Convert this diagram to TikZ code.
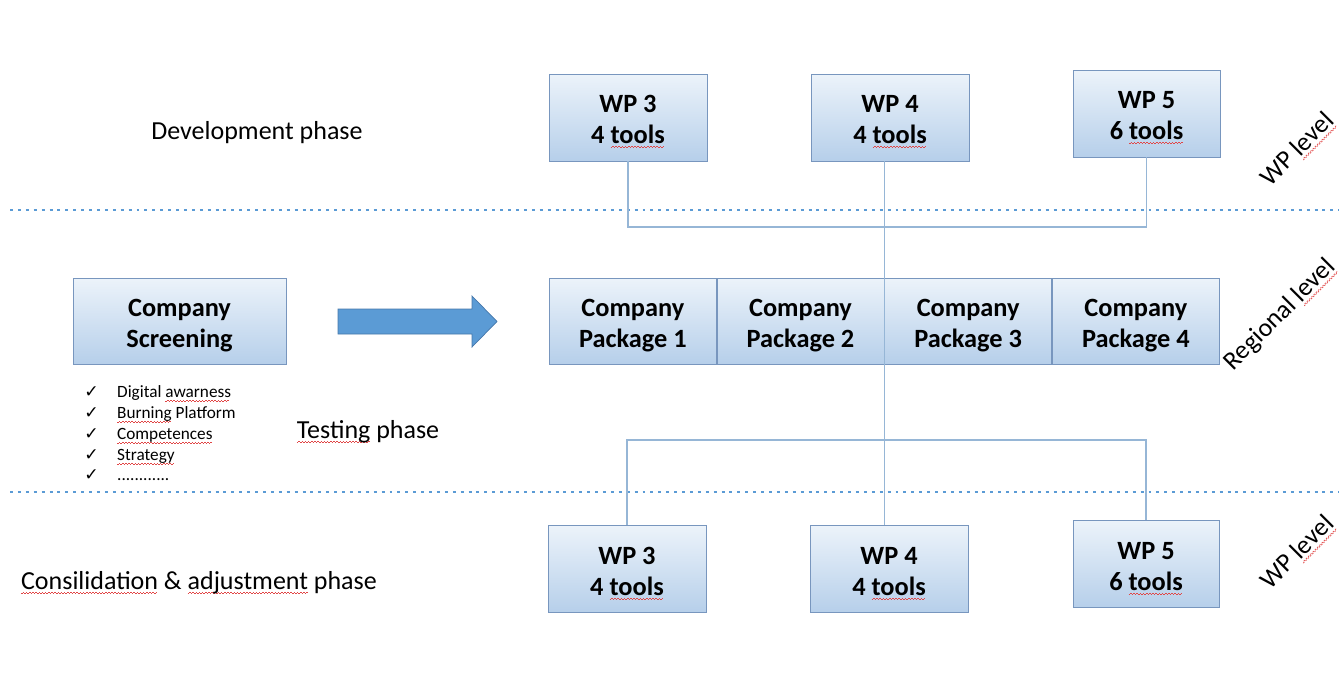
\documentclass[tikz,border=0pt]{standalone}
\usepackage{fontspec}
\setmainfont{Carlito}
\newfontfamily\symfont{DejaVu Sans}
\usetikzlibrary{positioning}
\definecolor{boxline}{RGB}{120,150,190}
\definecolor{boxtop}{RGB}{236,243,250}
\definecolor{boxbot}{RGB}{182,207,234}
\definecolor{linkblue}{RGB}{150,182,214}
\definecolor{dotblue}{RGB}{91,155,213}
\definecolor{arrowline}{RGB}{70,120,170}
\definecolor{spellred}{RGB}{225,70,70}
% red wavy spell-check mark under a word
\newcommand{\spell}[1]{\setbox0\hbox{#1}\rlap{\raisebox{-2.4pt}{\color{spellred}%
  \leaders\hbox{\rule{0.9pt}{0.35pt}\raisebox{0.6pt}{\rule{0.9pt}{0.35pt}}}\hskip\wd0}}#1}

\begin{document}
\begin{tikzpicture}[
      x=0.02cm, y=0.02cm,
      wpbox/.style={
        draw=boxline, top color=boxtop, bottom color=boxbot, align=center,
        minimum width=3.16cm, minimum height=1.74cm, inner sep=2pt,
        font=\fontsize{15}{17.6}\selectfont\bfseries,
        text height=30pt, text depth=0pt
      },
      pkgbox/.style={wpbox, minimum width=3.34cm, minimum height=1.72cm},
      link/.style={draw=linkblue, line width=0.6pt},
      phase/.style={font=\fontsize{14.8}{17}\selectfont},
      level/.style={phase, rotate=45},
      sep/.style={draw=dotblue, line width=1.7pt, dash pattern=on 1.7pt off 2.8pt}
    ]
    \useasboundingbox (0,0) rectangle (1339,681);

    % development phase (WP level)
    \node[wpbox] (wpThree) at (628,563.5) {WP 3\\4 \spell{tools}};
    \node[wpbox] (wpFour)  at (890,563.5) {WP 4\\4 \spell{tools}};
    \node[wpbox, minimum width=2.94cm] (wpFive) at (1146.5,567.5) {WP 5\\6 \spell{tools}};

    % regional level
    \node[wpbox, minimum width=4.26cm, minimum height=1.72cm] (screen) at (179.5,360) {Company\\Screening};
    \node[pkgbox, anchor=west] (pkgOne) at (549,360) {Company\\Package 1};
    \node[pkgbox, right=0pt of pkgOne] (pkgTwo)   {Company\\Package 2};
    \node[pkgbox, right=0pt of pkgTwo] (pkgThree) {Company\\Package 3};
    \node[pkgbox, right=0pt of pkgThree] (pkgFour) {Company\\Package 4};

    % consolidation phase (WP level)
    \node[wpbox] (wpThreeB) at (627,112) {WP 3\\4 \spell{tools}};
    \node[wpbox] (wpFourB)  at (889,112) {WP 4\\4 \spell{tools}};
    \node[wpbox, minimum width=2.92cm] (wpFiveB) at (1146,117) {WP 5\\6 \spell{tools}};

    % phase and level labels
    \node[phase] (devPhase)  at (257,548) {Development phase};
    \node[phase] (testPhase) at (368,249) {\spell{Testing} phase};
    \node[phase] (conPhase)  at (199,98) {\spell{Consilidation} \& \spell{adjustment} phase};
    \node[level] (wpLevel)   at (1298,531) {WP \spell{level}};
    \node[level] (regLevel)  at (1280,366) {Regional \spell{level}};
    \node[level] (wpLevelB)  at (1298,128) {WP \spell{level}};

    \node[anchor=north west, align=left, inner sep=0pt,
          font=\fontsize{9.8}{11.9}\selectfont] (checks) at (84,296) {%
      \makebox[18.7pt][l]{\symfont ✓}Digital \spell{awarness}\\
      \makebox[18.7pt][l]{\symfont ✓}\spell{Burning} Platform\\
      \makebox[18.7pt][l]{\symfont ✓}\spell{Competences}\\
      \makebox[18.7pt][l]{\symfont ✓}\spell{Strategy}\\
      \makebox[18.7pt][l]{\symfont ✓}............};

    % separators
    \coordinate (sepTop) at (10,471);
    \coordinate (sepBot) at (10,189);
    \draw[sep] (sepTop) -- ++(1329,0);
    \draw[sep] (sepBot) -- ++(1329,0);

    % block arrow
    \coordinate (arrowTail) at (338,359.5);
    \fill[dotblue, draw=arrowline, line width=0.4pt]
      (arrowTail) ++(0,-12.5) -- ++(134,0) -- ++(0,-13) -- ++(25,25.5)
      -- ++(-25,25.5) -- ++(0,-13) -- ++(-134,0) -- cycle;

    % connectors
    \coordinate (topBus) at (0,454);
    \coordinate (botBus) at (0,241);
    \draw[link] (wpThree.south) |- (topBus -| wpFive) -- (wpFive.south);
    \draw[link] (wpFour.south -| pkgTwo.east) -- (wpFourB.north -| pkgTwo.east);
    \draw[link] (wpThreeB.north) |- (botBus -| wpFiveB) -- (wpFiveB.north);
\end{tikzpicture}
\end{document}
